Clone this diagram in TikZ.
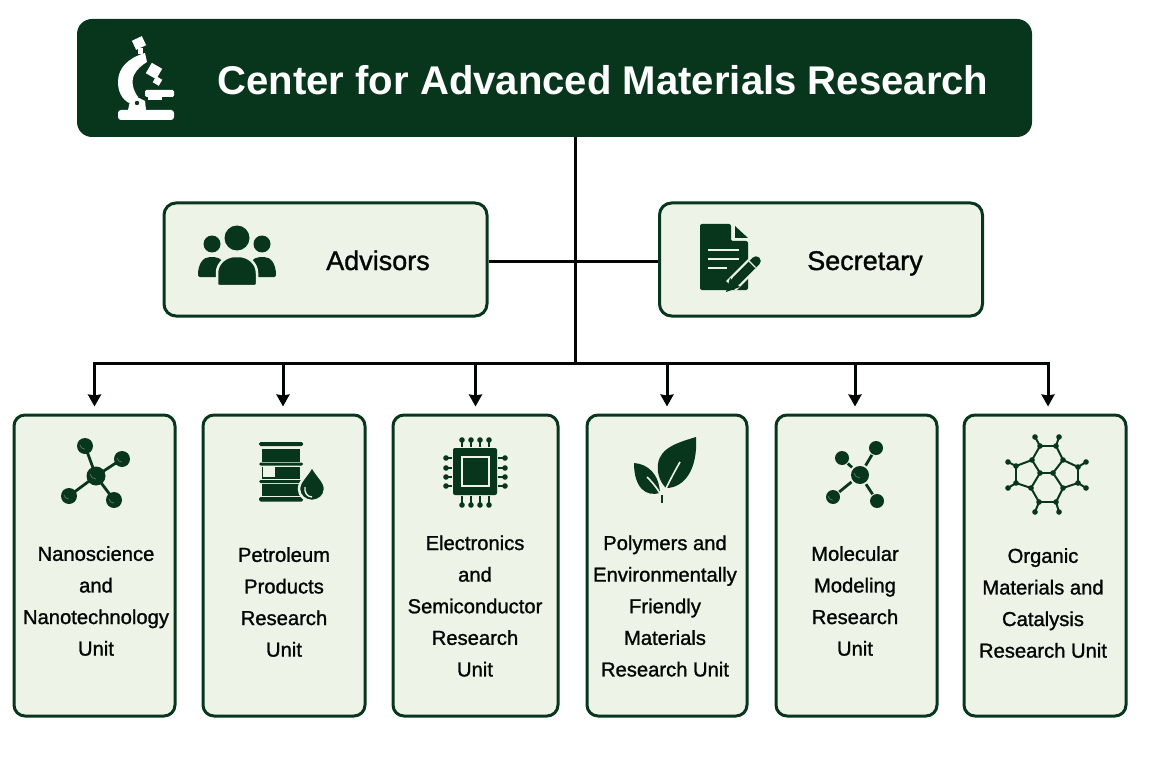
\documentclass[tikz,border=0pt]{standalone}
\usepackage{fontspec}
\setmainfont{Liberation Sans}
\newfontfamily\medfont[FakeBold=1.2]{Liberation Sans}
\usetikzlibrary{arrows.meta, calc}
\definecolor{forest}{HTML}{08361C}
\definecolor{pale}{HTML}{EDF3E6}
\tikzset{
  titlebox/.style={fill=forest, rounded corners=15pt, minimum width=955pt, minimum height=118pt},
  staffbox/.style={draw=forest, line width=3pt, fill=pale, rounded corners=12pt, minimum width=323pt, minimum height=113pt},
  stafflabel/.style={font=\medfont\fontsize{27}{27}\selectfont, text=black!85!forest, inner sep=0pt, anchor=base},
  unitbox/.style={draw=forest, line width=3pt, fill=pale, rounded corners=11pt, minimum height=301pt},
  unitlabel/.style={align=center, font=\medfont\fontsize{20.2}{31.6}\selectfont, text=black!85!forest, inner sep=0pt},
  trunk/.style={draw=black!90!forest, line width=3pt},
  busarrow/.style={trunk, -{Stealth[length=12pt,width=13pt,inset=1pt]}, shorten >=7pt},
  ink/.style={fill=forest, draw=none},
  bond/.style={draw=forest, line width=2.8pt},
}
\begin{document}
\begin{tikzpicture}[x=1pt, y=-1pt]
  \useasboundingbox (0,0) rectangle (1150,767);

  \node[titlebox] (center) at (554.5,78) {};
  \node[font=\bfseries\fontsize{40.1}{41}\selectfont, text=white, inner sep=0pt] (centername) at (603,80) {Center for Advanced Materials Research};
  \node[staffbox] (advisors) at (325.5,259.5) {};
  \node[staffbox] (secretary) at (821,259.5) {};
  \node[stafflabel] (advisorsname) at (378,270) {Advisors};
  \node[stafflabel] (secretaryname) at (865,270) {Secretary};

  \node[unitbox, minimum width=161pt] (unitA) at (94.5,565.5) {};
  \node[unitbox, minimum width=162pt] (unitB) at (284,565.5) {};
  \node[unitbox, minimum width=165pt] (unitC) at (475.5,565.5) {};
  \node[unitbox, minimum width=160pt] (unitD) at (667,565.5) {};
  \node[unitbox, minimum width=161pt] (unitE) at (856.5,565.5) {};
  \node[unitbox, minimum width=162pt] (unitF) at (1045,565.5) {};

  \node[unitlabel] (labelA) at (96,601) {Nanoscience\\and\\Nanotechnology\\Unit};
  \node[unitlabel] (labelB) at (284,602) {Petroleum\\Products\\Research\\Unit};
  \node[unitlabel] (labelC) at (475,606) {Electronics\\and\\Semiconductor\\Research\\Unit};
  \node[unitlabel] (labelD) at (665,606) {Polymers and\\Environmentally\\Friendly\\Materials\\Research Unit};
  \node[unitlabel] (labelE) at (855,601) {Molecular\\Modeling\\Research\\Unit};
  \node[unitlabel] (labelF) at (1043,603) {Organic\\Materials and\\Catalysis\\Research Unit};

  % Connectors
  \coordinate (bus) at (575,363);
  \draw[trunk] (center.south -| bus) -- (bus);
  \draw[trunk] (advisors.east |- 0,261) -- (secretary.west |- 0,261);
  \draw[trunk] ($(unitA.north |- bus)+(-1.5,0)$) -- ($(unitF.north |- bus)+(4.5,0)$);
  \foreach \unit/\shift in {unitA/0, unitB/-1, unitC/0, unitD/0, unitE/-1.5, unitF/3}
    \draw[busarrow] ([xshift=\shift pt]\unit.north |- bus) -- ([xshift=\shift pt]\unit.north);

  % Microscope
  \fill[white, rounded corners=3pt] (118,110) rectangle (174,120);
  \fill[white] (145,53) .. controls (128,58) and (118,68) .. (118,82) .. controls (118,92) and (122,99) .. (129,103)
    -- (138,97) .. controls (133,90) and (131,82) .. (134,75) .. controls (137,69) and (142,65) .. (147,62) -- cycle;
  \fill[white] (128,110) -- (130,101) -- (137,97) -- (145,101) -- (146,110) -- cycle;
  \fill[forest] (137,103) circle (2.2pt);
  \fill[white, rounded corners=1.5pt] (145,90) rectangle (174,97);
  \fill[white] (148,97) rectangle (162,100);
  \fill[white, rotate around={-30:(154,71)}] (148,65) rectangle (160,77);
  \fill[white, rotate around={-30:(157.5,81)}] (154,77.5) rectangle (161,84.5);
  \fill[white, rotate around={25:(139,43)}] (133.5,38) rectangle (144.5,48);
  \fill[white] (138,48) rectangle (143,54);

  % People
  \fill[forest] (237,238) circle (12.5pt) (212,244) circle (8.5pt) (262,244) circle (8.5pt);
  \fill[forest, rounded corners=2pt] (198,277) .. controls (198,264) and (203,257) .. (212,257) .. controls (221,257) and (226,264) .. (226,277) -- cycle;
  \fill[forest, rounded corners=2pt] (248,277) .. controls (248,264) and (253,257) .. (262,257) .. controls (271,257) and (276,264) .. (276,277) -- cycle;
  \filldraw[draw=pale, line width=2.5pt, fill=forest, rounded corners=2pt] (217,286) -- (217,275) .. controls (217,263) and (226,256) .. (237,256) .. controls (248,256) and (257,263) .. (257,275) -- (257,286) -- cycle;

  % Document
  \fill[ink, rounded corners=2pt] (700,224) -- (731,224) -- (731,241) -- (748,241) -- (748,290) -- (700,290) -- cycle;
  \fill[ink] (735,226) -- (748,238) -- (735,238) -- cycle;
  \foreach \liney/\lineend in {250/739, 259/739, 268/727}
    \draw[pale, line width=2.6pt] (708,\liney) -- (\lineend,\liney);
  \draw[pale, line width=14pt] (731,286) -- (757,260);
  \draw[forest, line width=9.5pt, line cap=round] (736,281) -- (756,261);
  \draw[pale, line width=1.2pt] (749,261) -- (755.5,267.5);
  \fill[forest] (726,292) -- (730,278) -- (740,287) -- cycle;

  % Molecule
  \foreach \ax/\ay in {85/446, 122/459, 69/496, 114/500} {
    \draw[bond] (96,476) -- (\ax,\ay);
    \fill[forest] (\ax,\ay) circle (8pt);
    \draw[pale!35!forest, line width=0.7pt] (\ax-5,\ay-1) arc (190:270:5pt);
  }
  \fill[forest] (96,476) circle (9.5pt);
  \draw[pale!35!forest, line width=0.7pt] (90,474) arc (190:270:6pt);

  % Barrel and drop
  \foreach \bandtop/\bandend in {442/446, 462.5/465.5, 480/483, 497/501.5}
    \fill[ink, rounded corners=1.5pt] (259,\bandtop) rectangle (303,\bandend);
  \foreach \bodytop/\bodyend in {449/461.5, 466.5/479, 484/496}
    \fill[ink] (262,\bodytop) rectangle (300,\bodyend);
  \fill[pale] (263,467) rectangle (275,477);
  \filldraw[draw=pale, line width=2.5pt, fill=forest] (312,466) .. controls (317,476) and (325,481) .. (325,489) .. controls (325,496) and (319,501) .. (312,501) .. controls (305,501) and (299,496) .. (299,489) .. controls (299,481) and (307,476) .. (312,466) -- cycle;
  \draw[pale, line width=1.4pt] (305,487) .. controls (304,492) and (307,497) .. (312,497);

  % Chip
  \fill[ink, rounded corners=2pt] (453,448) rectangle (497,495);
  \draw[pale, line width=1.6pt] (462,457) rectangle (489,486);
  \foreach \pin in {462,471,480,489} {
    \draw[bond, line width=2pt] (\pin,440) -- (\pin,447);
    \fill[forest] (\pin,440) circle (2.8pt);
    \draw[bond, line width=2pt] (\pin,496) -- (\pin,505);
    \fill[forest] (\pin,505) circle (2.8pt);
  }
  \foreach \pin in {458,468,477,486} {
    \draw[bond, line width=2pt] (446,\pin) -- (452,\pin);
    \fill[forest] (446,\pin) circle (2.8pt);
    \draw[bond, line width=2pt] (498,\pin) -- (505,\pin);
    \fill[forest] (505,\pin) circle (2.8pt);
  }

  % Leaves
  \fill[forest] (696,437) .. controls (680,442) and (660,447) .. (658,464) .. controls (657,472) and (659,481) .. (666,488) .. controls (684,488) and (698,470) .. (696,437) -- cycle;
  \fill[forest] (634,463) .. controls (648,464) and (659,474) .. (660,493) .. controls (646,497) and (634,488) .. (634,463) -- cycle;
  \draw[pale, line width=1.6pt] (680,462) .. controls (672,476) and (667,486) .. (662,497);
  \draw[pale, line width=1.6pt] (647,477) .. controls (653,483) and (659,490) .. (662,498);
  \draw[forest, line width=2.2pt] (662,495) -- (662,503);

  % Molecule with gaps
  \foreach \ax/\ay/\ar in {842/458/7, 876/448/7, 833/497/7, 877/501/7} {
    \draw[bond, shorten <=11pt, shorten >=8pt] (860,475) -- (\ax,\ay);
    \fill[forest] (\ax,\ay) circle (\ar pt);
  }
  \fill[forest] (860,475) circle (9pt);
  \draw[pale!35!forest, line width=0.7pt] (854,473) arc (190:270:6pt);
  \draw[pale!35!forest, line width=0.7pt] (828,496) arc (190:270:5pt);

  % Hexagon network
  \foreach \ua/\ub/\uc/\ud in {1040/446/1056/446, 1056/446/1063/460, 1063/460/1053/473, 1053/473/1040/473, 1040/473/1032/460, 1032/460/1040/446,
      1053/473/1063/488, 1063/488/1056/502, 1056/502/1039/502, 1039/502/1031/488, 1031/488/1040/473,
      1032/460/1016/466, 1016/466/1016/483, 1016/483/1031/488, 1063/460/1078/467, 1078/467/1078/483, 1078/483/1063/488,
      1040/446/1035/437, 1056/446/1059/437, 1016/466/1008/462, 1016/483/1008/488, 1078/467/1086/462, 1078/483/1086/488, 1039/502/1035/512, 1056/502/1059/512}
    \draw[bond, line width=2pt] (\ua,\ub) -- (\uc,\ud);
  \foreach \ax/\ay in {1040/446, 1056/446, 1063/460, 1053/473, 1040/473, 1032/460, 1063/488, 1056/502, 1039/502, 1031/488, 1016/466, 1016/483, 1078/467, 1078/483, 1035/437, 1059/437, 1008/462, 1008/488, 1086/462, 1086/488, 1035/512, 1059/512}
    \fill[forest] (\ax,\ay) circle (2.8pt);
\end{tikzpicture}
\end{document}
